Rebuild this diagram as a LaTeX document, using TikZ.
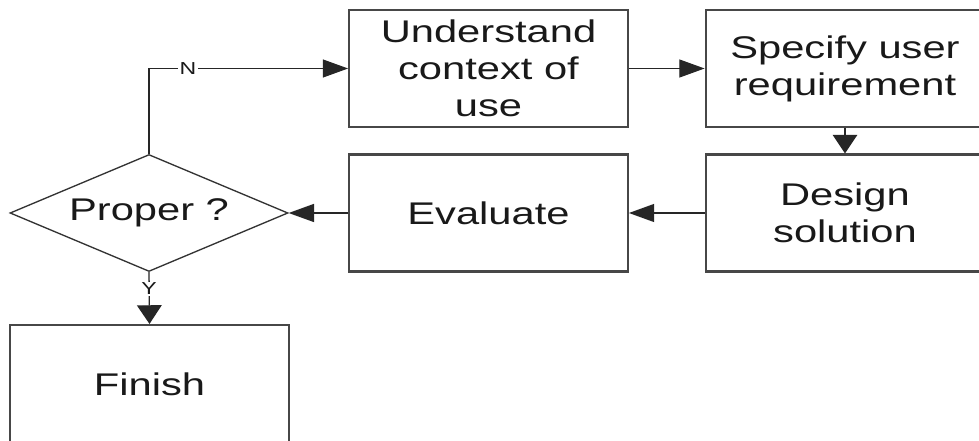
\documentclass[tikz,border=0pt]{standalone}
\usepackage{fontspec}
\setmainfont{Liberation Sans}[FakeStretch=1.33]
\usetikzlibrary{arrows.meta,shapes.geometric}
\begin{document}
\begin{tikzpicture}[x=0.75pt,y=-0.75pt,
  box/.style={draw=black!72, line width=1.6pt, minimum width=209pt, minimum height=87.75pt,
    inner sep=0pt, align=center, text=black!90, font=\fontsize{23.5}{27.75}\selectfont},
  decision/.style={draw=black!80, line width=1pt, shape=diamond, aspect=2.38, minimum width=208.5pt,
    minimum height=87.75pt, inner sep=0pt, text=black!90, font=\fontsize{23.5}{27.75}\selectfont},
  conn/.style={draw=black!85, line width=1pt},
  harrow/.style={conn, -{Triangle[length=19pt,width=13.5pt]}},
  varrow/.style={conn, -{Triangle[length=14pt,width=18.5pt]}},
  lbl/.style={fill=white, inner sep=1pt, text=black!90, font=\fontsize{13}{15}\selectfont}]
\clip (0,0) rectangle (979,441);
\fill[white] (0,0) rectangle (979,441);
\node[box] (und) at (488.5,68.5) {Understand\\context of\\use};
\node[box] (spec) at (845,68.5) {Specify user\\requirement};
\node[box] (des) at (845,213) {Design\\solution};
\node[box] (eva) at (488.5,213) {Evaluate};
\node[decision] (dia) at (149,213) {Proper ?};
\node[box, minimum height=88.5pt] (fin) at (149.5,384) {Finish};
\draw[harrow] (dia.north) |- (und.west);
\draw[harrow] (und.east) -- (spec.west);
\draw[varrow] (spec.south) -- (des.north);
\draw[harrow] (des.west) -- (eva.east);
\draw[harrow] (eva.west) -- (dia.east);
\draw[varrow] (dia.south) -- (fin.north);
\node[lbl] (nlab) at (188,69) {N};
\node[lbl] (ylab) at (149,289) {Y};
\end{tikzpicture}
\end{document}
